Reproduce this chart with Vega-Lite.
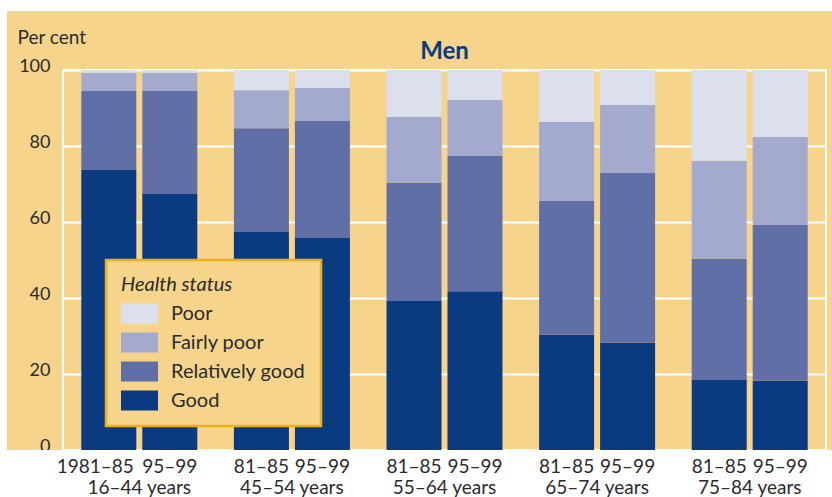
{
  "$schema": "https://vega.github.io/schema/vega-lite/v6.json",
  "width": 763,
  "height": 380,
  "autosize": {"type": "none"},
  "padding": {"left": 63, "top": 70, "right": 6, "bottom": 47},
  "background": "#F6D48C",
  "config": {"view": {"stroke": "#FFFFFF", "strokeWidth": 2}, "font": "Lato", "legend": {"strokeColor": "#ECB01C", "fillColor": "#F6D48C"}},
  "title": {"text": "Men", "fontSize": 24, "fontWeight": "bold", "color": "#0A3A80", "anchor": "middle", "frame": "group", "offset": -83, "baseline": "alphabetic", "font": "Lato"},
  "datasets": {
    "health": [
      {"age": "16–44 years", "period": "1981–85", "status": "Good", "value": 73.7},
      {"age": "16–44 years", "period": "1981–85", "status": "Relatively good", "value": 20.8},
      {"age": "16–44 years", "period": "1981–85", "status": "Fairly poor", "value": 4.8},
      {"age": "16–44 years", "period": "1981–85", "status": "Poor", "value": 0.7},
      {"age": "16–44 years", "period": "1995–99", "status": "Good", "value": 67.4},
      {"age": "16–44 years", "period": "1995–99", "status": "Relatively good", "value": 27.1},
      {"age": "16–44 years", "period": "1995–99", "status": "Fairly poor", "value": 4.8},
      {"age": "16–44 years", "period": "1995–99", "status": "Poor", "value": 0.7},
      {"age": "45–54 years", "period": "1981–85", "status": "Good", "value": 57.4},
      {"age": "45–54 years", "period": "1981–85", "status": "Relatively good", "value": 27.3},
      {"age": "45–54 years", "period": "1981–85", "status": "Fairly poor", "value": 10.0},
      {"age": "45–54 years", "period": "1981–85", "status": "Poor", "value": 5.3},
      {"age": "45–54 years", "period": "1995–99", "status": "Good", "value": 55.8},
      {"age": "45–54 years", "period": "1995–99", "status": "Relatively good", "value": 30.8},
      {"age": "45–54 years", "period": "1995–99", "status": "Fairly poor", "value": 8.7},
      {"age": "45–54 years", "period": "1995–99", "status": "Poor", "value": 4.7},
      {"age": "55–64 years", "period": "1981–85", "status": "Good", "value": 39.2},
      {"age": "55–64 years", "period": "1981–85", "status": "Relatively good", "value": 31.1},
      {"age": "55–64 years", "period": "1981–85", "status": "Fairly poor", "value": 17.3},
      {"age": "55–64 years", "period": "1981–85", "status": "Poor", "value": 12.4},
      {"age": "55–64 years", "period": "1995–99", "status": "Good", "value": 41.8},
      {"age": "55–64 years", "period": "1995–99", "status": "Relatively good", "value": 35.6},
      {"age": "55–64 years", "period": "1995–99", "status": "Fairly poor", "value": 14.7},
      {"age": "55–64 years", "period": "1995–99", "status": "Poor", "value": 7.9},
      {"age": "65–74 years", "period": "1981–85", "status": "Good", "value": 30.3},
      {"age": "65–74 years", "period": "1981–85", "status": "Relatively good", "value": 35.2},
      {"age": "65–74 years", "period": "1981–85", "status": "Fairly poor", "value": 20.8},
      {"age": "65–74 years", "period": "1981–85", "status": "Poor", "value": 13.7},
      {"age": "65–74 years", "period": "1995–99", "status": "Good", "value": 28.2},
      {"age": "65–74 years", "period": "1995–99", "status": "Relatively good", "value": 44.7},
      {"age": "65–74 years", "period": "1995–99", "status": "Fairly poor", "value": 17.9},
      {"age": "65–74 years", "period": "1995–99", "status": "Poor", "value": 9.2},
      {"age": "75–84 years", "period": "1981–85", "status": "Good", "value": 18.4},
      {"age": "75–84 years", "period": "1981–85", "status": "Relatively good", "value": 31.9},
      {"age": "75–84 years", "period": "1981–85", "status": "Fairly poor", "value": 25.8},
      {"age": "75–84 years", "period": "1981–85", "status": "Poor", "value": 23.9},
      {"age": "75–84 years", "period": "1995–99", "status": "Good", "value": 18.2},
      {"age": "75–84 years", "period": "1995–99", "status": "Relatively good", "value": 41.0},
      {"age": "75–84 years", "period": "1995–99", "status": "Fairly poor", "value": 23.2},
      {"age": "75–84 years", "period": "1995–99", "status": "Poor", "value": 17.6}
    ]
  },
  "layer": [
    {
      "data": {"values": [{}]},
      "mark": {"type": "rect", "fill": "#FFFFFF"},
      "encoding": {
        "x": {"datum": -0.0826, "type": "quantitative", "scale": {"domain": [0, 1]}, "axis": null},
        "x2": {"datum": 1.0079},
        "y": {"datum": 0, "type": "quantitative", "scale": {"domain": [0, 100]}},
        "y2": {"datum": -12.4}
      }
    },
    {
      "data": {"values": [{}]},
      "mark": {"type": "rect", "fill": "#FFFFFF"},
      "encoding": {
        "x": {"datum": -0.0826, "type": "quantitative", "scale": {"domain": [0, 1]}, "axis": null},
        "x2": {"datum": -0.0734},
        "y": {"datum": -12.4, "type": "quantitative"},
        "y2": {"datum": 118.42}
      }
    },
    {
      "data": {"values": [{}]},
      "mark": {"type": "rect", "fill": "#FFFFFF"},
      "encoding": {
        "x": {"datum": -0.0826, "type": "quantitative", "scale": {"domain": [0, 1]}, "axis": null},
        "x2": {"datum": 1.0079},
        "y": {"datum": 115.53, "type": "quantitative"},
        "y2": {"datum": 118.42}
      }
    },
    {
      "data": {"name": "health"},
      "transform": [
        {"calculate": "indexof(['Good','Relatively good','Fairly poor','Poor'], datum.status)", "as": "stackOrder"}
      ],
      "mark": {"type": "bar"},
      "encoding": {
        "x": {
          "field": "age", "type": "nominal", "sort": null,
          "scale": {"paddingInner": 0, "paddingOuter": 0},
          "axis": {"title": null, "labelAngle": 0, "ticks": false, "tickSize": 0, "domain": false, "labelFontSize": 19, "labelColor": "#2b2b2b", "labelPadding": 37, "labelBaseline": "middle", "zindex": 1, "labelFont": "Lato"}
        },
        "xOffset": {"field": "period", "type": "nominal", "sort": null, "scale": {"paddingInner": 0.098, "paddingOuter": 0.3}},
        "y": {
          "field": "value", "type": "quantitative", "stack": "zero",
          "scale": {"domain": [0, 100]},
          "axis": {
            "title": "Per cent", "titleAngle": 0, "titleX": -46, "titleY": -27, "titleAlign": "left", "titleBaseline": "alphabetic",
            "titleFontSize": 19, "titleFontWeight": "normal", "titleColor": "#2b2b2b", "titleFont": "Lato",
            "values": [0, 20, 40, 60, 80, 100], "domain": false, "ticks": false, "tickSize": 0,
            "grid": true, "gridColor": "#FFFFFF", "gridWidth": 2, "gridOpacity": 1,
            "labelFontSize": 18, "labelColor": "#2b2b2b", "labelPadding": 13, "labelOffset": -4, "labelFont": "Lato"
          }
        },
        "color": {
          "field": "status", "type": "nominal",
          "scale": {"domain": ["Poor", "Fairly poor", "Relatively good", "Good"], "range": ["#DCE0EC", "#A3AACD", "#6070A6", "#0A3A80"]},
          "legend": {
            "orient": "none", "legendX": 43, "legendY": 190,
            "title": "Health status", "titleFontStyle": "italic", "titleFontWeight": "normal", "titleFontSize": 20, "titleColor": "#2b2b2b", "titleFont": "Lato", "titlePadding": 0,
            "labelFontSize": 20, "labelColor": "#2b2b2b", "labelFont": "Lato", "labelOffset": 13,
            "symbolType": "M-1,-0.54H1V0.54H-1Z", "symbolSize": 1369, "symbolStrokeWidth": 0, "symbolOpacity": 1,
            "rowPadding": 0, "padding": 15,
            "strokeColor": "#ECB01C", "fillColor": "#F6D48C",
            "encode": {"legend": {"update": {"strokeWidth": {"value": 2.5}}}}
          }
        },
        "order": {"field": "stackOrder", "type": "quantitative"}
      }
    },
    {
      "data": {"name": "health"},
      "transform": [
        {"filter": "datum.status === 'Good' && !(datum.age === '16–44 years' && datum.period === '1981–85')"},
        {"calculate": "slice(datum.period, 2)", "as": "plabel"}
      ],
      "mark": {"type": "text", "dy": 17, "baseline": "middle", "align": "center", "fontSize": 19, "fill": "#2b2b2b", "font": "Lato"},
      "encoding": {
        "x": {"field": "age", "type": "nominal", "sort": null, "scale": {"paddingInner": 0, "paddingOuter": 0}, "axis": null},
        "xOffset": {"field": "period", "type": "nominal", "sort": null},
        "y": {"datum": 0, "type": "quantitative"},
        "text": {"field": "plabel"}
      }
    },
    {
      "data": {"name": "health"},
      "transform": [
        {"filter": "datum.status === 'Good' && datum.age === '16–44 years' && datum.period === '1981–85'"}
      ],
      "mark": {"type": "text", "dy": 17, "dx": 25, "baseline": "middle", "align": "right", "fontSize": 19, "fill": "#2b2b2b", "font": "Lato"},
      "encoding": {
        "x": {"field": "age", "type": "nominal", "sort": null, "scale": {"domain": ["16–44 years", "45–54 years", "55–64 years", "65–74 years", "75–84 years"], "paddingInner": 0, "paddingOuter": 0}, "axis": null},
        "xOffset": {"field": "period", "type": "nominal", "sort": null},
        "y": {"datum": 0, "type": "quantitative"},
        "text": {"field": "period"}
      }
    }
  ],
  "resolve": {"scale": {"x": "independent"}}
}
